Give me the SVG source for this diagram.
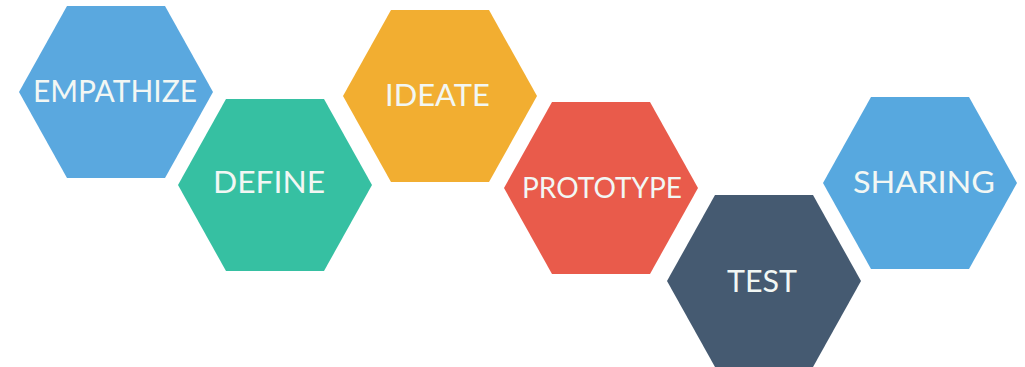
<svg xmlns="http://www.w3.org/2000/svg" xmlns:xlink="http://www.w3.org/1999/xlink" width="1025" height="367" viewBox="0 0 1025 367">
<style>
.lbl{font-family:Lato,"Open Sans","Liberation Sans",sans-serif;font-size:31px;fill:#f2f7f4;text-anchor:middle}
</style>
<defs>
<polygon id="hex" points="-97,0 -49,-86 49,-86 97,0 49,86 -49,86"/>
</defs>
<rect width="1025" height="367" fill="#ffffff"/>
<g id="connectors"></g>
<g id="empathize" transform="translate(116,92)">
<use xlink:href="#hex" fill="#5aa8df"/>
<text class="lbl" x="-1" y="10" style="font-size:30px" textLength="164" lengthAdjust="spacingAndGlyphs">EMPATHIZE</text>
</g>
<g id="define" transform="translate(275,185)">
<use xlink:href="#hex" fill="#36c0a2"/>
<text class="lbl" x="-6" y="8" textLength="112" lengthAdjust="spacingAndGlyphs">DEFINE</text>
</g>
<g id="ideate" transform="translate(440,96)">
<use xlink:href="#hex" fill="#f2ae31"/>
<text class="lbl" x="-2.5" y="10" textLength="105" lengthAdjust="spacingAndGlyphs">IDEATE</text>
</g>
<g id="prototype" transform="translate(601,188)">
<use xlink:href="#hex" fill="#e95b4b"/>
<text class="lbl" x="1" y="10" style="font-size:29px" textLength="160" lengthAdjust="spacingAndGlyphs">PROTOTYPE</text>
</g>
<g id="test" transform="translate(764,281)">
<use xlink:href="#hex" fill="#455a71"/>
<text class="lbl" x="-2" y="11" textLength="70" lengthAdjust="spacingAndGlyphs">TEST</text>
</g>
<g id="sharing" transform="translate(920,183)">
<use xlink:href="#hex" fill="#57a8df"/>
<text class="lbl" x="4" y="10" textLength="142" lengthAdjust="spacingAndGlyphs">SHARING</text>
</g>
</svg>
